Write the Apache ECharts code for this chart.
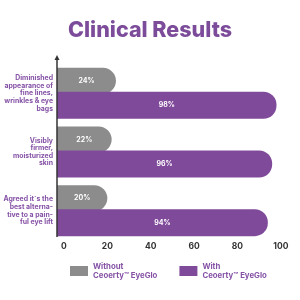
<!DOCTYPE html>
<html>
<head>
<meta charset="utf-8">
<script src="https://cdn.jsdelivr.net/npm/echarts@6/dist/echarts.min.js"></script>
<style>
html, body { margin: 0; padding: 0; background: #fff; }
#chart { width: 300px; height: 300px; }
</style>
</head>
<body>
<div id="chart"></div>
<script>
var categories = [
	'Diminished\nappearance of\nfine lines,\nwrinkles & eye\nbags',
	'Visibly\nfirmer,\nmoisturized\nskin',
	'Agreed it\u00b4s the\nbest alterna-\ntive to a pain-\nful eye lift'
];
var seriesNames = ['Without\nCeoerty\u2122 EyeGlo', 'With\nCeoerty\u2122 EyeGlo'];
var withoutValues = [24, 22, 20];
var withValues = [98, 96, 94];
var tickValues = [0, 20, 40, 60, 80, 100];

var grey = '#8c8c8c';
var purple = '#804a9b';
var textPurple = '#8552a6';
var font = 'Inter';

// grid box, the y axis line is drawn by hand so it can reach above the bars
var gridLeft = 57, gridTop = 64, gridBottom = 60, axisTop = 55, axisShift = 3;

var chart = echarts.init(document.getElementById('chart'));
chart.setOption({
	animation: false,
	title: {
		text: 'Clinical Results',
		left: 'center',
		top: 15,
		textStyle: { fontFamily: font, fontWeight: 800, fontSize: 21.5, color: '#7c4b9a' }
	},
	legend: {
		data: seriesNames,
		left: 70,
		top: 262,
		padding: 0,
		icon: 'rect',
		itemWidth: 18,
		itemHeight: 10,
		itemGap: 22,
		textStyle: { fontFamily: font, fontWeight: 700, fontSize: 7.8, color: textPurple, lineHeight: 9 }
	},
	grid: { left: gridLeft, right: 17, top: gridTop, bottom: gridBottom, outerBoundsMode: 'none' },
	xAxis: {
		type: 'value',
		min: -3.2,
		max: 101,
		startValue: -3.2,
		offset: -axisShift,
		splitLine: { show: false },
		axisLine: { lineStyle: { color: '#333', width: 1.5 }, symbol: ['none', 'arrow'], symbolSize: [5, 6] },
		axisTick: { show: false },
		axisLabel: {
			customValues: tickValues,
			margin: 5,
			fontFamily: font, fontWeight: 700, fontSize: 8.5, color: '#333'
		}
	},
	yAxis: {
		type: 'category',
		inverse: true,
		data: categories,
		axisLine: { show: false },
		axisTick: { show: false },
		axisLabel: {
			margin: 4,
			fontFamily: font, fontWeight: 700, fontSize: 6.9, lineHeight: 7.6, color: textPurple, align: 'right'
		}
	},
	series: [
		{
			name: seriesNames[0],
			type: 'bar',
			barWidth: 26,
			barGap: '-8%',
			data: withoutValues,
			itemStyle: { color: grey, borderRadius: [0, 13, 13, 0] },
			label: {
				show: true, position: 'inside', formatter: '{c}%',
				fontFamily: font, fontWeight: 700, fontSize: 7, color: '#fff'
			}
		},
		{
			name: seriesNames[1],
			type: 'bar',
			barWidth: 27,
			barGap: '-8%',
			data: withValues,
			itemStyle: { color: purple, borderRadius: [0, 13, 13, 0] },
			label: {
				show: true, position: 'inside', formatter: '{c}%',
				fontFamily: font, fontWeight: 700, fontSize: 7, color: '#fff'
			}
		}
	]
});

var axisBottom = 300 - gridBottom - axisShift;
chart.setOption({
	graphic: [
		{ type: 'line', z: 10, shape: { x1: gridLeft, y1: axisTop + 3, x2: gridLeft, y2: axisBottom }, style: { stroke: '#333', lineWidth: 1.5 } },
		{ type: 'polygon', z: 10, shape: { points: [[gridLeft, axisTop], [gridLeft - 2.5, axisTop + 5], [gridLeft + 2.5, axisTop + 5]] }, style: { fill: '#333' } }
	]
});
</script>
</body>
</html>
